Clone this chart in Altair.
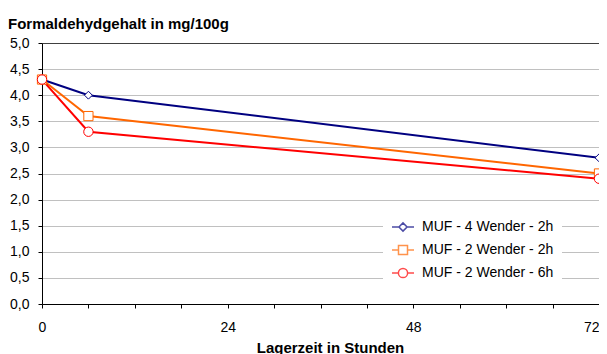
import altair as alt
import pandas as pd

hours = [0, 6, 72]
muf_4w_2h = [4.3, 4.0, 2.8]
muf_2w_2h = [4.3, 3.6, 2.5]
muf_2w_6h = [4.3, 3.3, 2.4]
series_names = ["MUF - 4 Wender - 2h", "MUF - 2 Wender - 2h", "MUF - 2 Wender - 6h"]
series_colors = ["#000080", "#FF6600", "#FF0000"]
marker_shapes = ["diamond", "square", "circle"]
marker_sizes = [62, 85, 88]
x_ticks = [0, 6, 12, 18, 24, 30, 36, 42, 48, 54, 60, 66, 72]
y_ticks = [0.0, 0.5, 1.0, 1.5, 2.0, 2.5, 3.0, 3.5, 4.0, 4.5, 5.0]
chart_title = "Formaldehydgehalt in mg/100g"
x_title = "Lagerzeit in Stunden"
legend_paths = [
    "M-1,0H-0.37M0.37,0H1M-0.37,0L0,-0.37L0.37,0L0,0.37Z",
    "M-1,0H-0.41M0.41,0H1M-0.41,-0.41H0.41V0.41H-0.41Z",
    "M-1,0H-0.42M0.42,0H1M-0.42,0A0.42,0.42 0 1 0 0.42,0A0.42,0.42 0 1 0 -0.42,0Z",
]

FONT = "Liberation Sans"

rows = []
for name, vals in zip(series_names, [muf_4w_2h, muf_2w_2h, muf_2w_6h]):
    for h, v in zip(hours, vals):
        rows.append({"hour": h, "value": v, "series": name})
df = pd.DataFrame(rows)

x_enc = alt.X(
    "hour:Q",
    scale=alt.Scale(domain=[0, 72], nice=False, zero=False),
    axis=alt.Axis(
        values=x_ticks,
        labelExpr="datum.value % 24 == 0 ? datum.label : ''",
        labelAlign={"condition": {"test": "datum.value === 72", "value": "right"}, "value": "center"},
        title=x_title,
        titleFont=FONT,
        titleFontSize=15,
        titleFontWeight="bold",
        titleColor="black",
        titleX=288,
        titleY=48,
        titleBaseline="alphabetic",
        titleAlign="center",
        labelFont=FONT,
        labelFontSize=14,
        labelColor="black",
        labelPadding=12,
        tickSize=4,
        tickColor="black",
        domainColor="black",
        grid=False,
        labelFlush=False,
        labelOverlap=False,
    ),
)
y_enc = alt.Y(
    "value:Q",
    scale=alt.Scale(domain=[0, 5], nice=False),
    axis=alt.Axis(
        values=y_ticks,
        labelExpr="replace(format(datum.value, '.1f'), '.', ',')",
        title=None,
        labelFont=FONT,
        labelFontSize=14,
        labelColor="black",
        labelPadding=9,
        tickSize=4,
        tickColor="black",
        domainColor="black",
        grid=True,
        gridColor={"condition": {"test": "datum.value === 5", "value": "#404040"}, "value": "#c0c0c0"},
        labelFlush=False,
        labelOverlap=False,
    ),
)
color_scale = alt.Scale(domain=series_names, range=series_colors)

line_layers = []
point_layers = []
for name, col, shp, sz in zip(series_names, series_colors, marker_shapes, marker_sizes):
    base = alt.Chart(df).transform_filter(alt.datum.series == name)
    line_layers.append(base.mark_line(strokeWidth=2, color=col).encode(x=x_enc, y=y_enc))
    point_layers.append(
        base.mark_point(shape=shp, size=sz, filled=True, fill="white", stroke=col, strokeWidth=1, opacity=1)
        .encode(x=x_enc, y=y_enc)
    )

leg = dict(
    title=None,
    orient="none",
    legendX=341,
    legendY=164,
    padding=8,
    fillColor="white",
    symbolSize=484,
    symbolStrokeWidth=1.5,
    symbolFillColor="white",
    labelFont=FONT,
    labelFontSize=14,
    labelColor="black",
    labelOffset=7,
    rowPadding=3,
)
legend_layer = (
    alt.Chart(df)
    .transform_filter("false")
    .mark_point(filled=False, strokeWidth=1.5)
    .encode(
        x=x_enc,
        y=y_enc,
        color=alt.Color("series:N", scale=color_scale, legend=alt.Legend(**leg)),
        shape=alt.Shape(
            "series:N",
            scale=alt.Scale(domain=series_names, range=legend_paths),
            legend=alt.Legend(**leg),
        ),
    )
)

chart = (
    alt.layer(*line_layers, *point_layers, legend_layer)
    .properties(
        width=557,
        height=261,
        autosize=alt.AutoSizeParams(type="none"),
        padding={"left": 34, "top": 35, "right": 0, "bottom": 54},
        title=alt.TitleParams(
            chart_title,
            anchor="start",
            frame="group",
            dx=-34,
            dy=15.5,
            font=FONT,
            fontSize=15,
            fontWeight="bold",
            color="black",
            baseline="alphabetic",
            offset=8,
        ),
    )
    .configure_view(stroke="#404040", strokeWidth=1)
    .configure(background="white")
)

chart.save("out.html", embed_options={"renderer": "svg", "actions": False})
